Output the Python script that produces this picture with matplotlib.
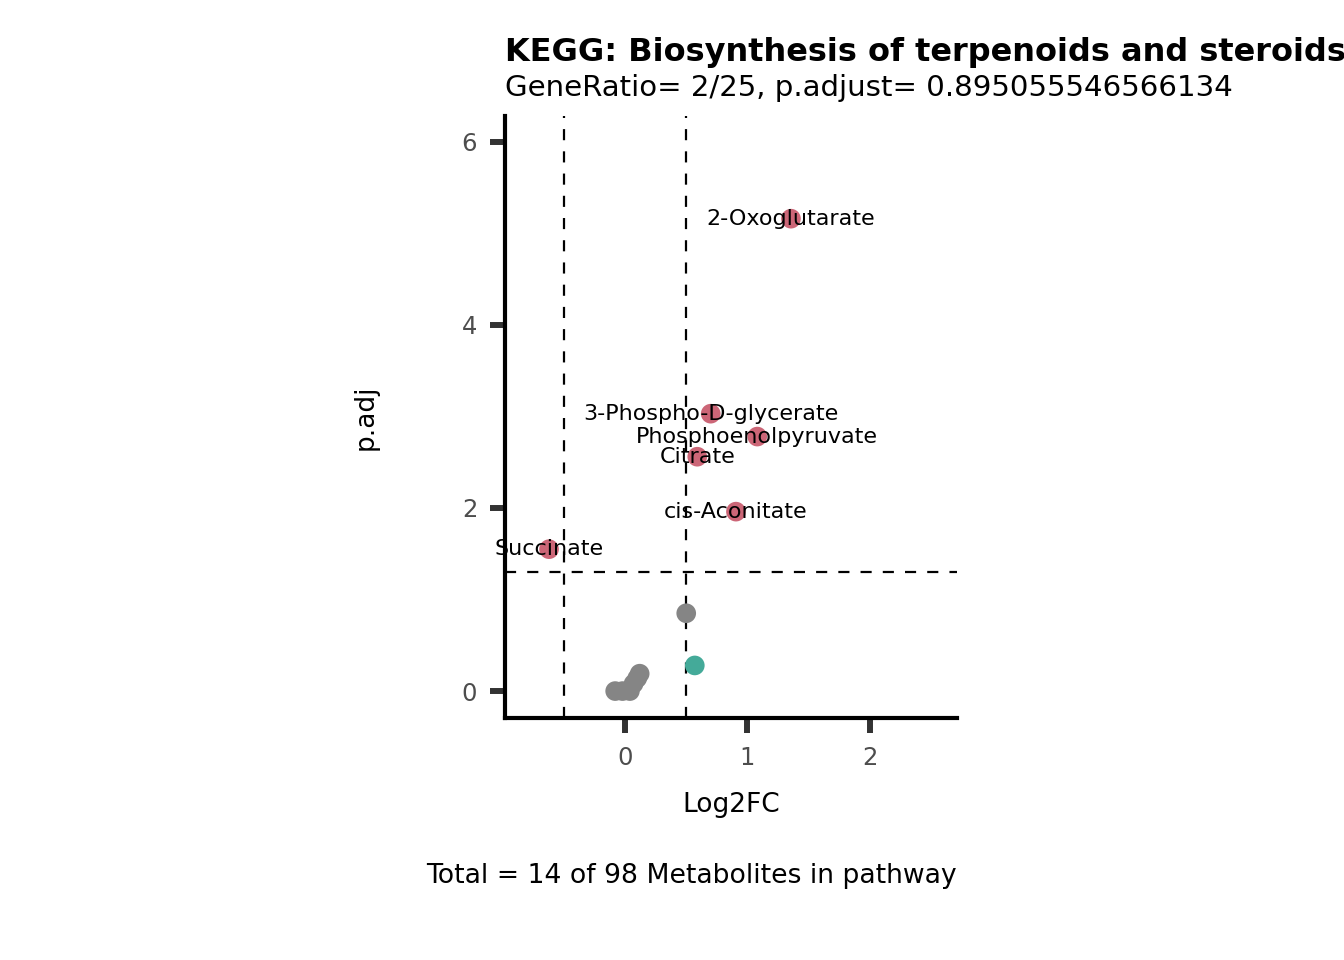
import matplotlib.pyplot as plt

# metabolite values
names = ["2-Oxoglutarate", "3-Phospho-D-glycerate", "Phosphoenolpyruvate", "Citrate",
         "cis-Aconitate", "Succinate", "", "", "", "", "", "", "", ""]
log2fc = [1.355, 0.70, 1.08, 0.59, 0.906, -0.62, 0.50, 0.57, -0.08, -0.02, 0.04, 0.07, 0.10, 0.12]
padj = [5.16, 3.03, 2.78, 2.56, 1.96, 1.55, 0.85, 0.28, 0.0, 0.0, 0.0, 0.08, 0.14, 0.19]
status = ["up", "up", "up", "up", "up", "up", "ns", "down", "ns", "ns", "ns", "ns", "ns", "ns"]

colors = {"up": "#CC6677", "down": "#44AA99", "ns": "#858585"}
fc_cut = 0.5
p_cut = 1.30103

fig = plt.figure(figsize=(13.44, 9.6), dpi=100)
ax = fig.add_axes([0.3757, 0.252, 0.3363, 0.627])

# grey first so coloured points sit on top
order = sorted(range(len(names)), key=lambda i: status[i] != "ns")
for i in order:
    ax.scatter(log2fc[i], padj[i], s=200, color=colors[status[i]], edgecolors="none", zorder=3)

for v in (-fc_cut, fc_cut):
    ax.axvline(v, color="black", lw=1.6, dashes=(5, 5), zorder=2)
ax.axhline(p_cut, color="black", lw=1.6, dashes=(5, 5), zorder=2)

for x, y, n in zip(log2fc, padj, names):
    if n:
        ax.text(x, y, n, ha="center", va="center", fontsize=16, zorder=4)

ax.set_xlim(-0.98, 2.71)
ax.set_ylim(-0.295, 6.28)
ax.set_xticks([0, 1, 2])
ax.set_yticks([0, 2, 4, 6])

for s in ("top", "right"):
    ax.spines[s].set_visible(False)
for s in ("left", "bottom"):
    ax.spines[s].set_linewidth(3)
ax.tick_params(length=11, width=4.3, color="#333333", labelcolor="#4D4D4D", labelsize=17.5, pad=9)

ax.set_xlabel("Log2FC", fontsize=19, labelpad=16)
ax.set_ylabel("p.adj", fontsize=19, labelpad=60)

fig.text(505 / 1344, 1 - 52 / 960, "KEGG: Biosynthesis of terpenoids and steroids",
         fontsize=23, fontweight="bold", ha="left", va="center")
fig.text(505 / 1344, 1 - 88 / 960, "GeneRatio= 2/25, p.adjust= 0.895055546566134",
         fontsize=21.1, ha="left", va="center")
fig.text(957 / 1344, 1 - 876 / 960, "Total = 14 of 98 Metabolites in pathway",
         fontsize=19.2, ha="right", va="center")

fig.savefig("out.png", dpi=100)
